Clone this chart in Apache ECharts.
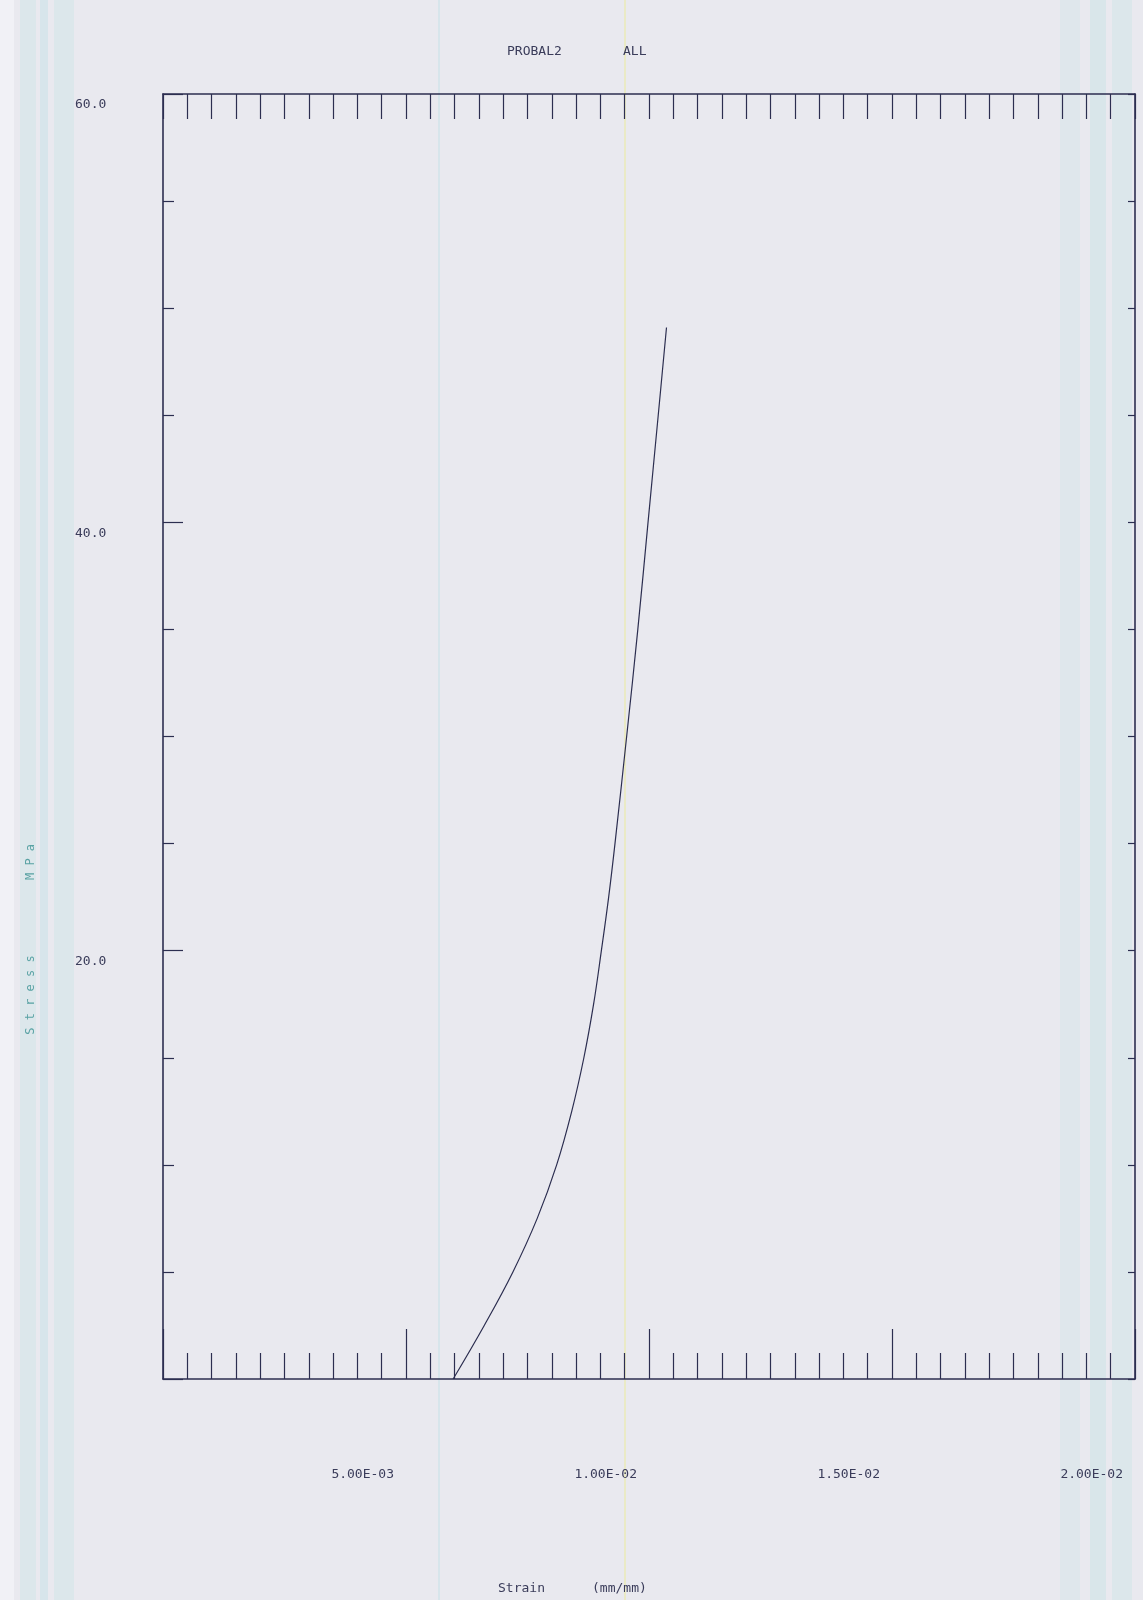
<!DOCTYPE html>
<html>
<head>
<meta charset="utf-8">
<title>PROBAL2 ALL</title>
<script src="https://cdn.jsdelivr.net/npm/echarts@6/dist/echarts.min.js"></script>
<style>
  html, body { margin: 0; padding: 0; background: #e9e9ef; }
  #chart { width: 1143px; height: 1600px; }
</style>
</head>
<body>
<div id="chart"></div>
<script>
// Stress-strain curve, strain in mm/mm, stress in MPa
const strain = [
  0.00597, 0.00661, 0.00720, 0.00770, 0.00810, 0.00841, 0.00866,
  0.00886, 0.00902, 0.00917, 0.00930, 0.00954, 0.00977, 0.00998,
  0.01019, 0.01036
];
const stress = [
  0.0, 2.5, 5.0, 7.5, 10.0, 12.5, 15.0,
  17.5, 20.0, 22.5, 25.0, 30.0, 35.0, 40.0,
  45.0, 49.1
];

// Axis ranges
const strainMin = 0, strainMax = 0.02, strainStep = 0.005, strainMinorStep = 0.0005;
const stressMin = 0, stressMax = 60, stressStep = 20, stressMinorStep = 5;

const titleLeft = 'PROBAL2';
const titleRight = 'ALL';
const xName = 'Strain';
const xUnit = '(mm/mm)';
const yName = 'S t r e s s';
const yUnit = 'M P a';

const ink = '#2c2e50';
const textInk = '#3a3c5a';
const nameInk = '#5aa2a4';
const mono = '"DejaVu Sans Mono", "Liberation Mono", monospace';

function sciLabel(v) {
  if (Math.abs(v) < 1e-12) return '';
  const s = v.toExponential(2);            // e.g. 5.00e-3
  const parts = s.split('e');
  let exp = parseInt(parts[1], 10);
  const sign = exp < 0 ? '-' : '+';
  exp = Math.abs(exp);
  return parts[0] + 'E' + sign + (exp < 10 ? '0' + exp : '' + exp);
}

const chart = echarts.init(document.getElementById('chart'), null, { renderer: 'canvas' });

const pts = strain.map((s, i) => [s, stress[i]]);

// faint paper bands near the page edges
const bands = [
  [0, 14, 'rgba(246,246,250,0.6)'],
  [20, 16, 'rgba(175,222,224,0.22)'],
  [40, 8, 'rgba(175,222,224,0.30)'],
  [54, 20, 'rgba(175,222,224,0.22)'],
  [1060, 20, 'rgba(175,222,224,0.18)'],
  [1090, 16, 'rgba(175,222,224,0.28)'],
  [1112, 20, 'rgba(175,222,224,0.22)'],
  [438, 2, 'rgba(175,222,224,0.30)'],
  [624, 2, 'rgba(235,235,170,0.6)']
];

const graphics = bands.map(b => ({
  type: 'rect', z: -10, silent: true,
  shape: { x: b[0], y: 0, width: b[1], height: 1600 },
  style: { fill: b[2] }
}));

graphics.push(
  { type: 'text', x: 507, y: 52, style: { text: titleLeft, font: '13px ' + mono, fill: textInk, verticalAlign: 'middle', align: 'left' } },
  { type: 'text', x: 623, y: 52, style: { text: titleRight, font: '13px ' + mono, fill: textInk, verticalAlign: 'middle', align: 'left' } },
  { type: 'text', x: 498, y: 1589, style: { text: xName, font: '13px ' + mono, fill: textInk, verticalAlign: 'middle', align: 'left' } },
  { type: 'text', x: 592, y: 1589, style: { text: xUnit, font: '13px ' + mono, fill: textInk, verticalAlign: 'middle', align: 'left' } },
  { type: 'text', x: 31, y: 995, rotation: Math.PI / 2, style: { text: yName, font: '12px ' + mono, fill: nameInk, verticalAlign: 'middle', align: 'center' } },
  { type: 'text', x: 31, y: 862, rotation: Math.PI / 2, style: { text: yUnit, font: '12px ' + mono, fill: nameInk, verticalAlign: 'middle', align: 'center' } }
);

const lineStyle = { color: ink, width: 1.6 };
const tickStyle = { color: ink, width: 1.2 };

chart.setOption({
  backgroundColor: '#e9e9ef',
  animation: false,
  grid: { left: 163, right: 8, top: 94, bottom: 221, containLabel: false },
  graphic: graphics,
  xAxis: [
    {
      type: 'value', position: 'bottom',
      min: strainMin, max: strainMax, interval: strainStep,
      axisLine: { show: true, onZero: false, lineStyle: lineStyle },
      axisTick: { show: true, inside: true, length: 50, lineStyle: tickStyle },
      minorTick: { show: true, splitNumber: Math.round(strainStep / strainMinorStep), length: 26, lineStyle: tickStyle },
      splitLine: { show: false },
      axisLabel: {
        show: true, formatter: sciLabel, margin: 96,
        align: 'right', verticalAlign: 'middle', padding: [0, 12, 0, 0],
        fontFamily: mono, fontSize: 13, color: textInk,
        showMinLabel: true, showMaxLabel: true
      }
    },
    {
      type: 'value', position: 'top',
      min: strainMin, max: strainMax, interval: strainMinorStep,
      axisLine: { show: true, onZero: false, lineStyle: lineStyle },
      axisTick: { show: true, inside: true, length: 25, lineStyle: tickStyle },
      splitLine: { show: false },
      axisLabel: { show: false }
    }
  ],
  yAxis: [
    {
      type: 'value', position: 'left',
      min: stressMin, max: stressMax, interval: stressStep,
      axisLine: { show: true, onZero: false, lineStyle: lineStyle },
      axisTick: { show: true, inside: true, length: 20, lineStyle: tickStyle },
      minorTick: { show: true, splitNumber: Math.round(stressStep / stressMinorStep), length: 11, lineStyle: tickStyle },
      splitLine: { show: false },
      axisLabel: {
        show: true, formatter: v => (v === 0 ? '' : v.toFixed(1)), margin: 88,
        align: 'left', verticalAlign: 'top', lineHeight: 22,
        fontFamily: mono, fontSize: 13, color: textInk
      }
    },
    {
      type: 'value', position: 'right',
      min: stressMin, max: stressMax, interval: stressMinorStep,
      axisLine: { show: true, onZero: false, lineStyle: lineStyle },
      axisTick: { show: true, inside: true, length: 7, lineStyle: tickStyle },
      splitLine: { show: false },
      axisLabel: { show: false }
    }
  ],
  series: [
    {
      type: 'line', xAxisIndex: 0, yAxisIndex: 0,
      data: pts, smooth: 0.4, showSymbol: false,
      lineStyle: { color: ink, width: 1.2 }
    }
  ]
});
</script>
</body>
</html>
